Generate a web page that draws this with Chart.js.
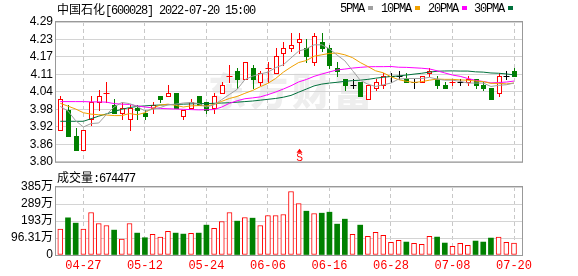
<!DOCTYPE html>
<html>
<head>
<meta charset="utf-8">
<script src="https://cdn.jsdelivr.net/npm/chart.js@4.4.1/dist/chart.umd.min.js"></script>
<style>
  body { margin: 0; background: #fff; }
  #wrap { position: relative; width: 578px; height: 276px; overflow: hidden; }
  canvas { position: absolute; left: 0; }
  #kline { top: 0; }
  #vol { top: 172px; }
  .txt { position: absolute; font: 12px "Liberation Mono", monospace; letter-spacing: -1.2px; color: #000; white-space: nowrap; line-height: 12px; }
  .cn { font-family: "Noto Sans CJK SC", sans-serif; letter-spacing: 0; }
  .sq { display: inline-block; width: 5px; height: 4px; margin-left: 4px; vertical-align: 2px; }
</style>
</head>
<body>
<div id="wrap">
  <canvas id="kline" width="578" height="172"></canvas>
  <canvas id="vol" width="578" height="104"></canvas>
  <div class="txt" id="title" style="left:57px;top:3px"></div>
  <div id="legend"></div>
  <div class="txt" id="volTitle" style="left:57px;top:171px"></div>
</div>
<script>
const stockName = '中国石化';
const stockCode = '600028';
const timeText = '2022-07-20 15:00';

const dates = ['04-22','04-25','04-26','04-27','04-28','04-29','05-05','05-06','05-09','05-10',
  '05-11','05-12','05-13','05-16','05-17','05-18','05-19','05-20','05-23','05-24',
  '05-25','05-26','05-27','05-30','05-31','06-01','06-02','06-06','06-07','06-08',
  '06-09','06-10','06-13','06-14','06-15','06-16','06-17','06-20','06-21','06-22',
  '06-23','06-24','06-27','06-28','06-29','06-30','07-01','07-04','07-05','07-06',
  '07-07','07-08','07-11','07-12','07-13','07-14','07-15','07-18','07-19','07-20'];

const opens = [3.91,3.98,3.89,3.84,3.95,4.01,4.04,4.00,3.97,3.95,
  3.99,3.97,3.99,4.03,4.03,4.04,3.96,3.99,4.03,4.01,
  3.99,4.04,4.10,4.12,4.09,4.13,4.08,4.13,4.11,4.18,
  4.20,4.22,4.20,4.15,4.22,4.20,4.13,4.09,4.07,4.08,
  4.02,4.06,4.07,4.10,4.10,4.09,4.08,4.08,4.11,4.09,
  4.07,4.08,4.08,4.08,4.09,4.07,4.06,4.04,4.10,4.12];
const highs = [4.03,4.00,3.92,3.91,4.03,4.05,4.08,4.02,4.01,4.00,
  4.00,3.98,4.01,4.03,4.07,4.04,3.98,4.02,4.03,4.01,
  4.04,4.08,4.14,4.13,4.15,4.14,4.12,4.15,4.20,4.22,
  4.25,4.25,4.23,4.25,4.25,4.21,4.15,4.09,4.09,4.08,
  4.07,4.09,4.11,4.11,4.12,4.11,4.09,4.10,4.13,4.10,
  4.08,4.09,4.09,4.10,4.09,4.08,4.06,4.11,4.12,4.13];
const lows = [3.91,3.89,3.84,3.84,3.93,3.98,4.01,3.97,3.95,3.91,
  3.95,3.95,3.97,4.01,4.03,3.99,3.95,3.99,4.00,3.97,
  3.97,4.04,4.08,4.06,4.09,4.06,4.07,4.08,4.11,4.14,
  4.19,4.18,4.15,4.14,4.19,4.13,4.10,4.05,4.06,4.03,
  4.02,4.05,4.06,4.08,4.09,4.08,4.06,4.08,4.10,4.06,
  4.06,4.07,4.07,4.07,4.06,4.05,4.02,4.03,4.09,4.10];
const closes = [4.02,3.89,3.84,3.91,4.01,4.03,4.04,3.97,3.99,3.99,
  3.98,3.96,4.00,4.02,4.04,3.99,3.98,4.01,4.00,3.98,
  4.03,4.07,4.10,4.09,4.15,4.09,4.11,4.13,4.17,4.20,
  4.21,4.23,4.17,4.24,4.20,4.14,4.12,4.07,4.07,4.03,
  4.07,4.08,4.10,4.10,4.10,4.08,4.08,4.10,4.12,4.07,
  4.06,4.08,4.08,4.09,4.07,4.06,4.02,4.10,4.10,4.10];

// volume in lots (手)
const volumes = [1466000,2106000,1805000,1466000,2406000,1786000,1673000,1410000,902000,1786000,
  1240000,978000,1166000,1015000,1335000,1240000,1184000,1222000,1240000,1692000,
  1504000,1899000,2406000,1918000,2124000,2087000,1673000,2237000,2237000,2294000,
  3600000,2914000,2482000,2350000,2369000,2425000,1748000,2030000,1166000,1692000,
  1053000,1278000,1109000,714000,827000,733000,658000,602000,1053000,1015000,
  677000,489000,658000,545000,790000,733000,959000,1015000,714000,674477];

// moving-average values before each window fills
const ma5Lead = [3.994,3.978,3.944,3.922];
const ma10Lead = [4.005,3.995,3.985,3.972,3.967,3.965,3.964,3.962,3.962];
const ma20Lead = [4.011,4.011,4.011,4.011,4.010,4.010,4.009,4.004,4.002,4.001,
  3.996,3.992,3.989,3.987,3.986,3.985,3.984,3.983,3.982];
const ma30Lead = [3.942,3.942,3.942,3.942,3.951,3.960,3.968,3.976,3.984,3.990,
  3.994,3.996,3.998,3.999,4.000,4.001,4.002,4.003,4.004,4.004,
  4.005,4.006,4.007,4.009,4.011,4.013,4.016,4.019,4.022];

const priceMin = 3.80, priceMax = 4.29;
const priceTickLabels = ['3.80','3.86','3.92','3.98','4.04','4.11','4.17','4.23','4.29'];
const volMax = 3852400;
const volTickLabels = ['0','96.31万','193万','289万','385万'];
const xTickDates = ['04-27','05-12','05-24','06-06','06-16','06-28','07-08','07-20'];
const signalDate = '06-10';
const signalText = 'S';

const maLabels = ['5PMA','10PMA','20PMA','30PMA'];
const maColors = ['#a0a0a0','#f0a000','#ff00ff','#00703c'];
const RED = '#ff0000', GREEN = '#008000';

const N = dates.length;
const xMin = -0.56, xMax = N + 0.04;
const xTickIdx = xTickDates.map(d => dates.indexOf(d));
const priceTicks = priceTickLabels.map((t, i) => priceMin + i * (priceMax - priceMin) / 8);
const volTicks = volTickLabels.map((t, i) => i * volMax / 4);

function movingAvg(n, lead) {
    return closes.map((c, i) => {
        if (i < n - 1) return lead[i];
        let s = 0;
        for (let k = i - n + 1; k <= i; k++) s += closes[k];
        return s / n;
    });
}
const mas = [movingAvg(5, ma5Lead), movingAvg(10, ma10Lead), movingAvg(20, ma20Lead), movingAvg(30, ma30Lead)];

// header texts
document.getElementById('title').innerHTML =
    `<span class="cn">${stockName}</span>[${stockCode}] ${timeText}`;
document.getElementById('volTitle').innerHTML =
    `<span class="cn">成交量</span>:${volumes[N - 1]}`;
const legendX = [340, 381, 428, 474];
document.getElementById('legend').innerHTML = maLabels.map((l, i) =>
    `<div class="txt" style="left:${legendX[i]}px;top:3px">${l}<span class="sq" style="background:${maColors[i]}"></span></div>`).join('');

function frame(chart) {
    const { ctx, chartArea: a } = chart;
    ctx.save();
    ctx.strokeStyle = '#999';
    ctx.lineWidth = 1;
    ctx.strokeRect(a.left - 0.5, a.top - 0.5, a.right - a.left + 1, a.bottom - a.top + 1);
    ctx.restore();
}

const xAxisGrid = {
    type: 'linear', min: xMin, max: xMax, offset: false,
    afterBuildTicks: s => { s.ticks = xTickIdx.map(v => ({ value: v })); },
    ticks: { display: false },
    grid: { color: '#c8c8c8', drawTicks: false, offset: false },
    border: { display: false, dash: [4, 3] },
    afterFit: s => { s.height = 0; }
};

const candlePlugin = {
    id: 'candles',
    beforeDraw(chart) {
        const { ctx } = chart;
        ctx.save();
        ctx.fillStyle = '#eeeeee';
        ctx.font = '900 38px "Noto Sans CJK SC"';
        ctx.textBaseline = 'middle';
        ctx.letterSpacing = '4px';
        ctx.fillText('东方财富', 208, 91);
        ctx.restore();
    },
    beforeDatasetsDraw(chart) {
        const { ctx, scales: { x, y } } = chart;
        ctx.save();
        ctx.lineWidth = 1;
        for (let i = 0; i < N; i++) {
            const o = opens[i], c = closes[i], h = highs[i], l = lows[i];
            const prev = i > 0 ? closes[i - 1] : o;
            let color;
            if (c > o) color = RED;
            else if (c < o) color = GREEN;
            else color = c > prev ? RED : (c < prev ? GREEN : '#000');
            const px = Math.round(x.getPixelForValue(i)) + 0.5;
            const yo = Math.round(y.getPixelForValue(o));
            const yc = Math.round(y.getPixelForValue(c));
            const yh = Math.round(y.getPixelForValue(h));
            const yl = Math.round(y.getPixelForValue(l));
            const top = Math.min(yo, yc), bot = Math.max(yo, yc);
            ctx.strokeStyle = color;
            ctx.fillStyle = color;
            ctx.beginPath();
            ctx.moveTo(px, yh); ctx.lineTo(px, top);
            ctx.moveTo(px, bot); ctx.lineTo(px, yl + 1);
            ctx.stroke();
            if (bot - top < 1) {
                ctx.beginPath();
                ctx.moveTo(px - 3, top + 0.5); ctx.lineTo(px + 3, top + 0.5);
                ctx.stroke();
            } else if (c > o) {
                ctx.fillStyle = '#fff';
                ctx.fillRect(px - 2.5, top, 5, bot - top + 1);
                ctx.strokeRect(px - 2, top + 0.5, 4, bot - top);
            } else {
                ctx.fillRect(px - 2.5, top, 5, bot - top + 1);
            }
        }
        ctx.restore();
    },
    afterDatasetsDraw(chart) {
        const { ctx, scales: { x }, chartArea: a } = chart;
        const px = Math.round(x.getPixelForValue(dates.indexOf(signalDate))) + 0.5;
        ctx.save();
        ctx.fillStyle = RED;
        ctx.beginPath();
        ctx.moveTo(px, a.bottom - 13);
        ctx.lineTo(px - 3, a.bottom - 9);
        ctx.lineTo(px + 3, a.bottom - 9);
        ctx.closePath();
        ctx.fill();
        ctx.font = '10px "Liberation Sans"';
        ctx.textAlign = 'center';
        ctx.textBaseline = 'bottom';
        ctx.fillText(signalText, px, a.bottom + 1);
        ctx.restore();
    },
    afterDraw: frame
};

new Chart(document.getElementById('kline').getContext('2d'), {
    type: 'line',
    data: {
        datasets: mas.map((m, k) => ({
            data: m.map((v, i) => ({ x: i, y: v })),
            borderColor: maColors[k],
            borderWidth: 1,
            pointRadius: 0,
            tension: 0
        }))
    },
    options: {
        responsive: false,
        animation: false,
        events: [],
        devicePixelRatio: 1,
        layout: { padding: { top: 22, right: 56, bottom: 7, left: 0 } },
        plugins: { legend: { display: false }, tooltip: { enabled: false } },
        scales: {
            x: xAxisGrid,
            y: {
                min: priceMin, max: priceMax,
                afterBuildTicks: s => { s.ticks = priceTicks.map(v => ({ value: v })); },
                ticks: {
                    callback: (v, i) => priceTickLabels[i],
                    color: '#000', padding: 3, autoSkip: false,
                    font: { family: '"Liberation Sans"', size: 12 }
                },
                grid: { color: '#d4d4d4', drawTicks: false },
                border: { display: false },
                afterFit: s => { s.width = 56; }
            }
        }
    },
    plugins: [candlePlugin]
});

const volUp = closes.map((c, i) => i === 0 || c >= closes[i - 1]);

new Chart(document.getElementById('vol').getContext('2d'), {
    type: 'bar',
    data: {
        datasets: [{
            xAxisID: 'x',
            data: volumes.map((v, i) => ({ x: i, y: v })),
            backgroundColor: volUp.map(u => u ? '#fff' : GREEN),
            borderColor: volUp.map(u => u ? RED : GREEN),
            borderWidth: volUp.map(u => u ? 1 : 0),
            borderSkipped: false,
            barThickness: 5
        }]
    },
    options: {
        responsive: false,
        animation: false,
        events: [],
        devicePixelRatio: 1,
        layout: { padding: { top: 15, right: 56, bottom: 0, left: 0 } },
        plugins: { legend: { display: false }, tooltip: { enabled: false } },
        scales: {
            x: xAxisGrid,
            xl: {
                type: 'linear', position: 'bottom', min: xMin, max: xMax, z: 1, offset: false,
                afterBuildTicks: s => { s.ticks = xTickIdx.map(v => ({ value: v })); },
                ticks: {
                    callback: (v, i) => xTickDates[i],
                    color: RED, padding: 4, maxRotation: 0, autoSkip: false,
                    font: { family: '"Liberation Mono"', size: 12 }
                },
                grid: { display: false, drawTicks: false, offset: false },
                border: { display: false },
                afterFit: s => { s.height = 21; }
            },
            y: {
                min: 0, max: volMax,
                afterBuildTicks: s => { s.ticks = volTicks.map(v => ({ value: v })); },
                ticks: {
                    callback: (v, i) => volTickLabels[i],
                    color: '#000', padding: 3, autoSkip: false,
                    font: { family: '"Liberation Sans", "Noto Sans CJK SC"', size: 12 }
                },
                grid: { color: '#d4d4d4', drawTicks: false },
                border: { display: false },
                afterFit: s => { s.width = 56; }
            }
        }
    },
    plugins: [{
        id: 'volFrame',
        afterDatasetsDraw(chart) { chart.ctx.letterSpacing = '-1.2px'; },
        afterDraw(chart) { chart.ctx.letterSpacing = '0px'; frame(chart); }
    }]
});
</script>
</body>
</html>
